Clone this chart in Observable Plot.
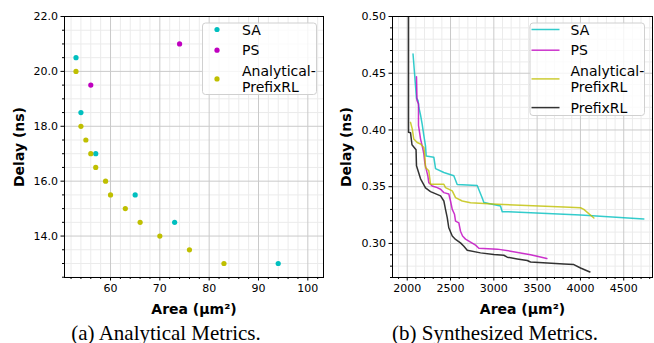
<!DOCTYPE html>
<html><head><meta charset="utf-8">
<script src="https://cdn.jsdelivr.net/npm/d3@7"></script>
<script src="https://cdn.jsdelivr.net/npm/@observablehq/plot@0.6"></script>
<style>
body{margin:0;background:#fff;}
#wrap{position:relative;width:654px;height:343px;overflow:hidden;font-family:'DejaVu Sans';}
.panel{position:absolute;top:0;}
.cap{position:absolute;font-family:'Liberation Serif';font-size:21px;white-space:nowrap;transform:translate(-50%,-50%);color:#000;}
#wrap g[aria-label="x-axis label"] text, #wrap g[aria-label="y-axis label"] text{font-weight:bold;font-size:14px;}
#overlay{position:absolute;left:0;top:0;pointer-events:none;font-family:'DejaVu Sans';font-size:14px;}
</style>
</head><body><div id="wrap"></div>
<script>
// ---------- (a) Analytical metrics: scatter ----------
const saArea  = [53, 54, 57, 65, 73, 94];
const saDelay = [20.5, 18.5, 17, 15.5, 14.5, 13];
const psArea  = [74, 56];
const psDelay = [21, 19.5];
const aprlArea  = [53, 54, 55, 56, 57, 59, 60, 63, 66, 70, 76, 83];
const aprlDelay = [20, 18, 17.5, 17, 16.5, 16, 15.5, 15, 14.5, 14, 13.5, 13];
const aXTicks = [60, 70, 80, 90, 100];
const aYTicks = [14, 16, 18, 20, 22];

// ---------- (b) Synthesized metrics: lines ----------
const sSaArea  = [2067, 2107, 2125, 2134, 2154, 2173, 2192, 2211, 2219, 2307, 2327, 2423, 2538, 2577, 2808, 2866, 2885, 2981, 3077, 3097, 3170, 4001, 4732];
const sSaDelay = [0.467, 0.428, 0.426, 0.420, 0.413, 0.405, 0.395, 0.386, 0.377, 0.376, 0.366, 0.3625, 0.3596, 0.352, 0.351, 0.340, 0.336, 0.3345, 0.333, 0.328, 0.328, 0.325, 0.3215];
const sPsArea  = [2107, 2113, 2130, 2130, 2145, 2154, 2173, 2192, 2203, 2219, 2238, 2249, 2289, 2346, 2385, 2423, 2480, 2500, 2520, 2546, 2558, 2596, 2615, 2639, 2673, 2731, 2789, 2827, 3039, 3193, 3424, 3612];
const sPsDelay = [0.447, 0.426, 0.423, 0.404, 0.3965, 0.392, 0.386, 0.379, 0.371, 0.3655, 0.3596, 0.3536, 0.3507, 0.3492, 0.3478, 0.3448, 0.3436, 0.3374, 0.330, 0.3257, 0.3197, 0.3182, 0.3108, 0.3065, 0.3038, 0.3012, 0.2985, 0.2958, 0.295, 0.2932, 0.2901, 0.2867];
const sAprlArea  = [2038, 2058, 2076, 2115, 2154, 2192, 2203, 2211, 2249, 2269, 2423, 2442, 2520, 2558, 2635, 2731, 3039, 3808, 4001, 4039, 4155];
const sAprlDelay = [0.4067, 0.401, 0.392, 0.389, 0.3876, 0.3846, 0.3773, 0.3669, 0.364, 0.3522, 0.3522, 0.3492, 0.3463, 0.3404, 0.3374, 0.3359, 0.3345, 0.3321, 0.3315, 0.330, 0.3224];
const sPrlArea  = [2015, 2015, 2038, 2055, 2102, 2107, 2125, 2154, 2211, 2269, 2385, 2423, 2442, 2462, 2480, 2520, 2558, 2615, 2654, 2693, 2846, 3000, 3115, 3155, 3270, 3386, 3424, 3617, 3808, 3924, 4001, 4109];
const sPrlDelay = [0.56, 0.398, 0.3976, 0.387, 0.3826, 0.3684, 0.364, 0.357, 0.349, 0.3457, 0.3419, 0.3374, 0.330, 0.3227, 0.3138, 0.3065, 0.3035, 0.3005, 0.2976, 0.294, 0.2917, 0.2903, 0.2896, 0.2879, 0.2864, 0.285, 0.2837, 0.2828, 0.282, 0.2814, 0.2784, 0.2749];
const bXTicks = [2000, 2500, 3000, 3500, 4000, 4500];
const bYTicks = [0.30, 0.35, 0.40, 0.45, 0.50];

const seriesNames = ["SA", "PS", "Analytical-\nPrefixRL", "PrefixRL"];
const colors = {"SA": "#00bfbf", "PS": "#bf00bf", "Analytical-\nPrefixRL": "#bfbf00", "PrefixRL": "#000000"};

const rows = (xs, ys, s) => xs.map((x, i) => ({x, y: ys[i], s}));
const aData = [...rows(saArea, saDelay, "SA"), ...rows(psArea, psDelay, "PS"), ...rows(aprlArea, aprlDelay, "Analytical-\nPrefixRL")];
const bData = [...rows(sSaArea, sSaDelay, "SA"), ...rows(sPsArea, sPsDelay, "PS"), ...rows(sAprlArea, sAprlDelay, "Analytical-\nPrefixRL"), ...rows(sPrlArea, sPrlDelay, "PrefixRL")];

function minors(lo, hi, step, majors) {
  const out = [];
  for (let v = lo; v <= hi + 1e-9; v += step) {
    const r = Math.round(v / step) * step;
    if (!majors.some(m => Math.abs(m - r) < step / 10)) out.push(+r.toFixed(6));
  }
  return out;
}

function panel(o) {
  return Plot.plot({
    width: o.width, height: 322,
    marginTop: 16, marginBottom: 45, marginLeft: o.marginLeft, marginRight: o.marginRight,
    style: {fontFamily: "'DejaVu Sans'", fontSize: "11px", color: "#000", background: "transparent", overflow: "visible"},
    x: {domain: o.xDomain},
    y: {domain: o.yDomain},
    marks: [
      Plot.gridX(o.xMinor, {stroke: "#ebebeb", strokeOpacity: 1}),
      Plot.gridY(o.yMinor, {stroke: "#ebebeb", strokeOpacity: 1}),
      Plot.gridX(o.xTicks, {stroke: "#cacaca", strokeOpacity: 1}),
      Plot.gridY(o.yTicks, {stroke: "#cacaca", strokeOpacity: 1}),
      ...o.marks,
      Plot.axisX(o.xMinor, {tickSize: 2, tickFormat: () => "", label: null}),
      Plot.axisY(o.yMinor, {tickSize: 2, tickFormat: () => "", label: null}),
      Plot.axisX(o.xTicks, {tickSize: 3.5, tickPadding: 3, tickFormat: d => String(d), label: "Area (µm²)", labelAnchor: "center", labelOffset: 36, labelArrow: false}),
      Plot.axisY(o.yTicks, {tickSize: 3.5, tickPadding: 3, tickFormat: o.fmtY, label: "Delay (ns)", labelAnchor: "center", labelOffset: o.yLabelOffset, labelArrow: false}),
      Plot.frame({stroke: "#000", strokeOpacity: 1})
    ]
  });
}

const wrap = document.getElementById("wrap");

const pa = panel({
  width: 330, marginLeft: 64, marginRight: 7,
  xDomain: [50.67, 103.18], yDomain: [12.49, 22.0],
  xTicks: aXTicks, yTicks: aYTicks,
  xMinor: minors(52, 102, 2, aXTicks), yMinor: minors(12.5, 21.5, 0.5, aYTicks),
  fmtY: d3.format(".1f"), yLabelOffset: 50.5,
  marks: [
    Plot.dot(aData, {x: "x", y: "y", r: 2.6, fill: d => colors[d.s], stroke: null})
  ]
});
pa.classList.add("panel"); pa.style.left = "0px";
wrap.appendChild(pa);

const pb = panel({
  width: 324, marginLeft: 62, marginRight: 2,
  xDomain: [1830, 4832], yDomain: [0.27, 0.50],
  xTicks: bXTicks, yTicks: bYTicks,
  xMinor: minors(1900, 4800, 100, bXTicks), yMinor: minors(0.27, 0.49, 0.01, bYTicks),
  fmtY: d3.format(".2f"), yLabelOffset: 51,
  marks: [
    Plot.line(bData, {x: "x", y: "y", z: "s", stroke: d => colors[d.s], strokeWidth: 1.5, strokeOpacity: 0.8, clip: true, curve: "linear"})
  ]
});
pb.classList.add("panel"); pb.style.left = "330px";
wrap.appendChild(pb);

// ---------- legends & captions ----------
const ov = d3.select(wrap).append("svg").attr("id", "overlay").attr("width", 654).attr("height", 343);

function legend(x, y, w, h, kind, names) {
  const g = ov.append("g");
  g.append("rect").attr("x", x + 0.5).attr("y", y + 0.5).attr("width", w).attr("height", h)
    .attr("rx", 3).attr("fill", "#fff").attr("fill-opacity", 0.8).attr("stroke", "#d0d0d0");
  let cy = y + 7;
  names.forEach(n => {
    const lines = n.split("\n");
    const mid = cy + (lines.length - 1) * 16 / 2;
    if (kind === "dot") {
      g.append("circle").attr("cx", x + 15).attr("cy", mid).attr("r", 2.6).attr("fill", colors[n]);
    } else {
      g.append("line").attr("x1", x + 2).attr("x2", x + 30).attr("y1", mid).attr("y2", mid)
        .attr("stroke", colors[n]).attr("stroke-width", 1.5).attr("stroke-opacity", 0.8);
    }
    lines.forEach((t, i) => {
      g.append("text").attr("x", x + (kind === "dot" ? 40 : 41)).attr("y", cy + i * 16)
        .attr("dominant-baseline", "central").attr("fill", "#000")
        .attr("font-family", "'DejaVu Sans'").attr("font-size", 14).text(t);
    });
    cy += (lines.length - 1) * 16 + 20.7;
  });
}
legend(202, 22.5, 114, 71.5, "dot", seriesNames.slice(0, 3));
legend(529.5, 22.5, 114.5, 92.5, "line", seriesNames);

const caps = [["(a) Analytical Metrics.", 166], ["(b) Synthesized Metrics.", 495]];
caps.forEach(([t, x]) => {
  const d = document.createElement("div");
  d.className = "cap"; d.textContent = t;
  d.style.left = x + "px"; d.style.top = "333px";
  wrap.appendChild(d);
});
</script>
</body></html>
